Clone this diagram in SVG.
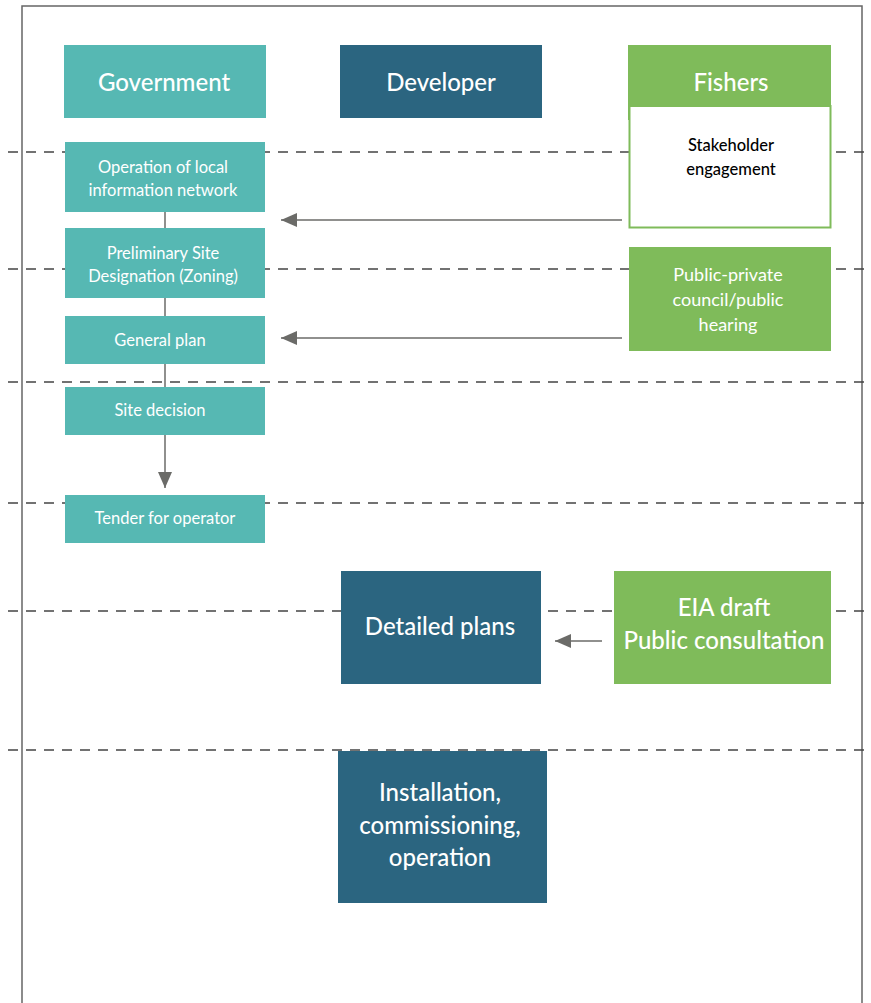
<svg xmlns="http://www.w3.org/2000/svg" width="871" height="1003" viewBox="0 0 871 1003">
<defs>
<style>
.dash{stroke:#444;stroke-width:1.3;stroke-dasharray:10 8;fill:none}
.teal{fill:#56b8b3}
.dev{fill:#2b6580}
.grn{fill:#7fbb5a}
.t{font-family:Lato,"Noto Sans",sans-serif;fill:#fff;text-anchor:middle}
.big{font-size:24px;font-weight:500}
.sm{font-size:16.5px}
.md{font-size:18px}
.conn{stroke:#6b6b68;stroke-width:1.5;fill:none}
</style>
<marker id="ahb" viewBox="0 0 16 14" refX="16" refY="7" markerWidth="16" markerHeight="14" markerUnits="userSpaceOnUse" orient="auto">
<path d="M0,0 L16,7 L0,14 z" fill="#6b6b68"/>
</marker>
</defs>
<rect width="871" height="1003" fill="#fff"/>
<path d="M22,1003 V6 H862 V1003" stroke="#666" stroke-width="1.5" fill="none"/>
<g id="dashes">
<line class="dash" x1="8" y1="152" x2="871" y2="152"/>
<line class="dash" x1="8" y1="269" x2="871" y2="269"/>
<line class="dash" x1="8" y1="382" x2="871" y2="382"/>
<line class="dash" x1="8" y1="503" x2="871" y2="503"/>
<line class="dash" x1="8" y1="611" x2="871" y2="611"/>
<line class="dash" x1="8" y1="750" x2="871" y2="750"/>
</g>
<g id="connectors">
<line class="conn" x1="165" y1="212" x2="165" y2="228"/>
<line class="conn" x1="165" y1="298" x2="165" y2="316"/>
<line class="conn" x1="165" y1="364" x2="165" y2="387"/>
<line class="conn" x1="165" y1="435" x2="165" y2="488" marker-end="url(#ahb)"/>
<line class="conn" x1="622" y1="220" x2="281" y2="220" marker-end="url(#ahb)"/>
<line class="conn" x1="622" y1="338" x2="281" y2="338" marker-end="url(#ahb)"/>
<line class="conn" x1="602" y1="641" x2="555" y2="641" marker-end="url(#ahb)"/>
</g>
<g id="government"><rect class="teal" x="64" y="45" width="202" height="73"/><text class="t big" x="164" y="91">Government</text></g>
<g id="developer"><rect class="dev" x="340" y="45" width="202" height="73"/><text class="t big" x="441" y="91">Developer</text></g>
<g id="fishers"><rect class="grn" x="628" y="45" width="203" height="75"/><text class="t big" x="731" y="91">Fishers</text></g>
<g id="stakeholder"><rect x="629.5" y="106" width="201" height="121.5" fill="#fff" stroke="#7fbb5a" stroke-width="2"/><text class="t sm" x="731" y="151" style="fill:#000;font-weight:500">Stakeholder</text><text class="t sm" x="731" y="175" style="fill:#000;font-weight:500">engagement</text></g>
<g id="operation"><rect class="teal" x="65" y="142" width="200" height="70"/><text class="t sm" x="163" y="173">Operation of local</text><text class="t sm" x="163" y="196">information network</text></g>
<g id="preliminary"><rect class="teal" x="65" y="228" width="200" height="70"/><text class="t sm" x="163" y="259">Preliminary Site</text><text class="t sm" x="163" y="282">Designation (Zoning)</text></g>
<g id="general"><rect class="teal" x="65" y="316" width="200" height="48"/><text class="t sm" x="160" y="346">General plan</text></g>
<g id="site"><rect class="teal" x="65" y="387" width="200" height="48"/><text class="t sm" x="160" y="416">Site decision</text></g>
<g id="tender"><rect class="teal" x="65" y="495" width="200" height="48"/><text class="t sm" x="165" y="524">Tender for operator</text></g>
<g id="council"><rect class="grn" x="629" y="247" width="202" height="104"/><text class="t md" x="728" y="281">Public-private</text><text class="t md" x="728" y="306">council/public</text><text class="t md" x="728" y="331">hearing</text></g>
<g id="detailed"><rect class="dev" x="341" y="571" width="200" height="113"/><text class="t big" x="440" y="635">Detailed plans</text></g>
<g id="eia"><rect class="grn" x="614" y="571" width="217" height="113"/><text class="t big" x="724" y="616">EIA draft</text><text class="t big" x="724" y="649">Public consultation</text></g>
<g id="installation"><rect class="dev" x="338" y="751" width="209" height="152"/><text class="t big" x="440" y="801">Installation,</text><text class="t big" x="440" y="834">commissioning,</text><text class="t big" x="440" y="866">operation</text></g>
</svg>
